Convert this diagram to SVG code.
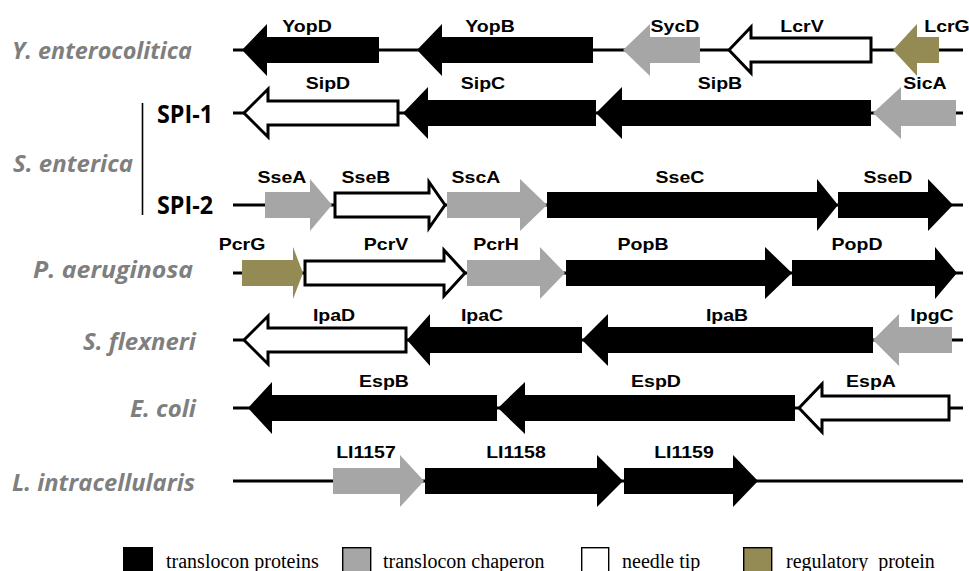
<svg xmlns="http://www.w3.org/2000/svg" width="969" height="571" viewBox="0 0 969 571">
<style>
.bk{fill:#000}
.gy{fill:#a6a6a6}
.ol{fill:#948a54}
.wh{fill:#fff;stroke:#000;stroke-width:3;stroke-linejoin:miter}
.ln{stroke:#000;stroke-width:3;fill:none}
.lab{font-family:"Liberation Sans",Arial,sans-serif;font-weight:bold;font-size:16px;text-anchor:middle;fill:#000}
.sp{font-family:"Open Sans","Liberation Sans",sans-serif;font-style:italic;font-weight:700;font-size:23px;fill:#7f7f7f}
.spi{font-family:"Open Sans","Liberation Sans",sans-serif;font-weight:bold;font-size:25px;fill:#000}
.leg{font-family:"Liberation Serif","Times New Roman",serif;font-size:20px;fill:#000}
</style>
<rect width="969" height="571" fill="#fff"/>

<g id="species-labels">
<text class="sp" x="12" y="59" textLength="180" lengthAdjust="spacingAndGlyphs">Y. enterocolitica</text>
<text class="sp" x="13" y="172" textLength="120" lengthAdjust="spacingAndGlyphs">S. enterica</text>
<text class="sp" x="33" y="278" textLength="160" lengthAdjust="spacingAndGlyphs">P. aeruginosa</text>
<text class="sp" x="83" y="350" textLength="113" lengthAdjust="spacingAndGlyphs">S. flexneri</text>
<text class="sp" x="130" y="417" textLength="66" lengthAdjust="spacingAndGlyphs">E. coli</text>
<text class="sp" x="12" y="491" textLength="183" lengthAdjust="spacingAndGlyphs">L. intracellularis</text>
<text class="spi" x="157" y="123" textLength="56" lengthAdjust="spacingAndGlyphs">SPI-1</text>
<text class="spi" x="157" y="214" textLength="56" lengthAdjust="spacingAndGlyphs">SPI-2</text>
<line x1="142.5" y1="103" x2="142.5" y2="215" stroke="#000" stroke-width="1.6"/>
</g>

<g id="backbones">
<line class="ln" x1="233" y1="50" x2="963" y2="50"/>
<line class="ln" x1="233" y1="113" x2="963" y2="113"/>
<line class="ln" x1="233" y1="205" x2="963" y2="205"/>
<line class="ln" x1="233" y1="273" x2="963" y2="273"/>
<line class="ln" x1="233" y1="340" x2="963" y2="340"/>
<line class="ln" x1="233" y1="408" x2="963" y2="408"/>
<line class="ln" x1="233" y1="481" x2="963" y2="481"/>
</g>

<!-- Row 1: Y. enterocolitica, c=50 -->
<g id="YopD"><polygon class="bk" points="242,50 267,24 267,37 379,37 379,63 267,63 267,76"/><text class="lab" transform="translate(307 32) scale(1.22 1)">YopD</text></g>
<g id="YopB"><polygon class="bk" points="417,50 442,24 442,37 593,37 593,63 442,63 442,76"/><text class="lab" transform="translate(490 32) scale(1.22 1)">YopB</text></g>
<g id="SycD"><polygon class="gy" points="623,50 650,24 650,37 700,37 700,63 650,63 650,76"/><text class="lab" transform="translate(675 32) scale(1.22 1)">SycD</text></g>
<g id="LcrV"><polygon class="wh" points="729,50 751,27 751,38 871,38 871,62 751,62 751,73"/><text class="lab" transform="translate(802 32) scale(1.22 1)">LcrV</text></g>
<g id="LcrG"><polygon class="ol" points="893,50 917,24 917,37 939,37 939,63 917,63 917,76"/><text class="lab" transform="translate(947 32) scale(1.22 1)">LcrG</text></g>

<!-- Row 2: SPI-1, c=113 -->
<g id="SipD"><polygon class="wh" points="244,113 268,89 268,101 398,101 398,125 268,125 268,137"/><text class="lab" transform="translate(328 89) scale(1.22 1)">SipD</text></g>
<g id="SipC"><polygon class="bk" points="403,113 428,87 428,100 596,100 596,126 428,126 428,139"/><text class="lab" transform="translate(483 89) scale(1.22 1)">SipC</text></g>
<g id="SipB"><polygon class="bk" points="596,113 622,87 622,100 871,100 871,126 622,126 622,139"/><text class="lab" transform="translate(720 89) scale(1.22 1)">SipB</text></g>
<g id="SicA"><polygon class="gy" points="873,113 901,87 901,100 956,100 956,126 901,126 901,139"/><text class="lab" transform="translate(925 89) scale(1.22 1)">SicA</text></g>

<!-- Row 3: SPI-2, c=205 -->
<g id="SseA"><polygon class="gy" points="265,192 310,192 310,179 332,205 310,231 310,218 265,218"/><text class="lab" transform="translate(282 183) scale(1.22 1)">SseA</text></g>
<g id="SseB"><polygon class="wh" points="335,193 429,193 429,182 445,205 429,228 429,217 335,217"/><text class="lab" transform="translate(366 183) scale(1.22 1)">SseB</text></g>
<g id="SscA"><polygon class="gy" points="447,192 520,192 520,179 547,205 520,231 520,218 447,218"/><text class="lab" transform="translate(476 183) scale(1.22 1)">SscA</text></g>
<g id="SseC"><polygon class="bk" points="547,192 817,192 817,179 838,205 817,231 817,218 547,218"/><text class="lab" transform="translate(680 183) scale(1.22 1)">SseC</text></g>
<g id="SseD"><polygon class="bk" points="838,192 928,192 928,179 953,205 928,231 928,218 838,218"/><text class="lab" transform="translate(888 183) scale(1.22 1)">SseD</text></g>

<!-- Row 4: P. aeruginosa, c=273 -->
<g id="PcrG"><polygon class="ol" points="242,260 293,260 293,247 303,273 293,299 293,286 242,286"/><text class="lab" transform="translate(242 250) scale(1.22 1)">PcrG</text></g>
<g id="PcrV"><polygon class="wh" points="305,261 444,261 444,250 465,273 444,296 444,285 305,285"/><text class="lab" transform="translate(386 250) scale(1.22 1)">PcrV</text></g>
<g id="PcrH"><polygon class="gy" points="467,260 540,260 540,247 565,273 540,299 540,286 467,286"/><text class="lab" transform="translate(496 250) scale(1.22 1)">PcrH</text></g>
<g id="PopB"><polygon class="bk" points="566,260 765,260 765,247 792,273 765,299 765,286 566,286"/><text class="lab" transform="translate(643 250) scale(1.22 1)">PopB</text></g>
<g id="PopD"><polygon class="bk" points="792,260 935,260 935,247 957,273 935,299 935,286 792,286"/><text class="lab" transform="translate(857 250) scale(1.22 1)">PopD</text></g>

<!-- Row 5: S. flexneri, c=340 -->
<g id="IpaD"><polygon class="wh" points="244,340 268,316 268,328 406,328 406,352 268,352 268,364"/><text class="lab" transform="translate(334 321) scale(1.22 1)">IpaD</text></g>
<g id="IpaC"><polygon class="bk" points="407,340 430,314 430,327 582,327 582,353 430,353 430,366"/><text class="lab" transform="translate(482 321) scale(1.22 1)">IpaC</text></g>
<g id="IpaB"><polygon class="bk" points="582,340 608,314 608,327 873,327 873,353 608,353 608,366"/><text class="lab" transform="translate(727 321) scale(1.22 1)">IpaB</text></g>
<g id="IpgC"><polygon class="gy" points="873,340 899,314 899,327 952,327 952,353 899,353 899,366"/><text class="lab" transform="translate(932 321) scale(1.22 1)">IpgC</text></g>

<!-- Row 6: E. coli, c=408 -->
<g id="EspB"><polygon class="bk" points="248,408 272,382 272,395 497,395 497,421 272,421 272,434"/><text class="lab" transform="translate(384 387) scale(1.22 1)">EspB</text></g>
<g id="EspD"><polygon class="bk" points="498,408 525,382 525,395 795,395 795,421 525,421 525,434"/><text class="lab" transform="translate(656 387) scale(1.22 1)">EspD</text></g>
<g id="EspA"><polygon class="wh" points="799,408 822,384 822,396 949,396 949,420 822,420 822,432"/><text class="lab" transform="translate(871 387) scale(1.22 1)">EspA</text></g>

<!-- Row 7: L. intracellularis, c=481 -->
<g id="LI1157"><polygon class="gy" points="333,468 400,468 400,455 424,481 400,507 400,494 333,494"/><text class="lab" transform="translate(366 458) scale(1.22 1)">LI1157</text></g>
<g id="LI1158"><polygon class="bk" points="425,468 597,468 597,455 623,481 597,507 597,494 425,494"/><text class="lab" transform="translate(516 458) scale(1.22 1)">LI1158</text></g>
<g id="LI1159"><polygon class="bk" points="624,468 733,468 733,455 758,481 733,507 733,494 624,494"/><text class="lab" transform="translate(684 458) scale(1.22 1)">LI1159</text></g>

<g id="legend">
<rect x="123" y="547" width="30" height="30" fill="#000"/>
<text class="leg" x="166" y="568">translocon proteins</text>
<rect x="342.7" y="547.7" width="28" height="30" fill="#a6a6a6" stroke="#000" stroke-width="1.4"/>
<text class="leg" x="383" y="568">translocon chaperon</text>
<rect x="581.7" y="547.7" width="27" height="30" fill="#fff" stroke="#000" stroke-width="1.4"/>
<text class="leg" x="622" y="568">needle tip</text>
<rect x="743.7" y="547.7" width="28" height="30" fill="#948a54" stroke="#000" stroke-width="1.4"/>
<text class="leg" x="786" y="568" xml:space="preserve">regulatory  protein</text>
</g>
</svg>
